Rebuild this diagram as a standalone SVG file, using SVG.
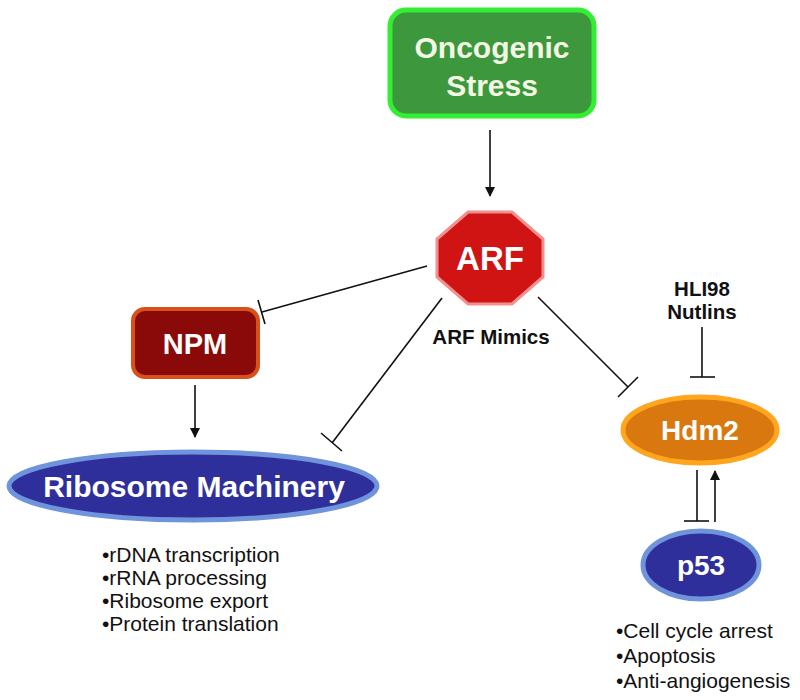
<svg xmlns="http://www.w3.org/2000/svg" width="800" height="700" viewBox="0 0 800 700">
<style>
.lbl{font-family:"Liberation Sans",Arial,sans-serif;font-weight:bold;text-anchor:middle}
.txt{font-family:"Liberation Sans",Arial,sans-serif;fill:#111;font-size:21px}
.bk{font-family:"Liberation Sans",Arial,sans-serif;font-weight:bold;fill:#111;font-size:20.5px;text-anchor:middle}
.ln{stroke:#111;stroke-width:1.6;fill:none}
</style>
<defs>
<marker id="arr" markerWidth="10" markerHeight="10" refX="9" refY="5" orient="auto" markerUnits="userSpaceOnUse" viewBox="0 0 10 10">
<path d="M0,0 L10,5 L0,10 z" fill="#111"/>
</marker>
</defs>
<rect width="800" height="700" fill="#ffffff"/>
<g id="connectors">
<line class="ln" x1="490" y1="130" x2="490" y2="196" marker-end="url(#arr)"/>
<line class="ln" x1="427" y1="266" x2="262" y2="312"/>
<line class="ln" x1="258" y1="300" x2="265" y2="324"/>
<line class="ln" x1="442" y1="298" x2="332" y2="443"/>
<line class="ln" x1="321" y1="433" x2="342" y2="451"/>
<line class="ln" x1="538" y1="297" x2="628" y2="387"/>
<line class="ln" x1="618" y1="397" x2="638" y2="377"/>
<line class="ln" x1="702" y1="327" x2="702" y2="377"/>
<line class="ln" x1="690" y1="377" x2="715" y2="377"/>
<line class="ln" x1="195" y1="385" x2="195" y2="437" marker-end="url(#arr)"/>
<line class="ln" x1="697" y1="470" x2="697" y2="521"/>
<line class="ln" x1="684" y1="521" x2="709" y2="521"/>
<line class="ln" x1="715" y1="522" x2="715" y2="471" marker-end="url(#arr)"/>
</g>
<g id="oncogenic-stress">
<rect x="390" y="10" width="204" height="106" rx="16" fill="#3d983d" stroke="#33ee33" stroke-width="5"/>
<text class="lbl" x="492" y="58" font-size="30" fill="#f3f7e4">Oncogenic</text>
<text class="lbl" x="492" y="96" font-size="30" fill="#f3f7e4">Stress</text>
</g>
<g id="arf">
<polygon points="468,212 512,212 543,239 543,277 512,304 468,304 437,277 437,239" fill="#d01414" stroke="#f29090" stroke-width="3"/>
<text class="lbl" x="490" y="270" font-size="33" fill="#ffffff">ARF</text>
</g>
<g id="arf-mimics">
<text class="bk" x="491" y="344">ARF Mimics</text>
</g>
<g id="npm">
<rect x="133" y="309" width="125" height="68" rx="12" fill="#8a0a0a" stroke="#d8501a" stroke-width="4"/>
<text class="lbl" x="195" y="354" font-size="29" fill="#ffffff">NPM</text>
</g>
<g id="ribosome-machinery">
<ellipse cx="193" cy="486" rx="184" ry="34" fill="#2f2f9c" stroke="#6f94dc" stroke-width="5"/>
<text class="lbl" x="194" y="497" font-size="30" fill="#ffffff">Ribosome Machinery</text>
</g>
<g id="ribosome-list">
<text class="txt" x="102" y="562">•rDNA transcription</text>
<text class="txt" x="102" y="585">•rRNA processing</text>
<text class="txt" x="102" y="608">•Ribosome export</text>
<text class="txt" x="102" y="631">•Protein translation</text>
</g>
<g id="hli98-nutlins">
<text class="bk" x="702" y="296">HLI98</text>
<text class="bk" x="702" y="319">Nutlins</text>
</g>
<g id="hdm2">
<ellipse cx="700" cy="430" rx="77" ry="33" fill="#d8780e" stroke="#ffa51e" stroke-width="5"/>
<text class="lbl" x="700" y="440" font-size="28" fill="#ffffff">Hdm2</text>
</g>
<g id="p53">
<ellipse cx="701" cy="565" rx="58" ry="34" fill="#2f2f9c" stroke="#6f94dc" stroke-width="5"/>
<text class="lbl" x="701" y="575" font-size="28" fill="#ffffff">p53</text>
</g>
<g id="p53-list">
<text class="txt" x="616" y="638">•Cell cycle arrest</text>
<text class="txt" x="616" y="663">•Apoptosis</text>
<text class="txt" x="616" y="688">•Anti-angiogenesis</text>
</g>
</svg>
